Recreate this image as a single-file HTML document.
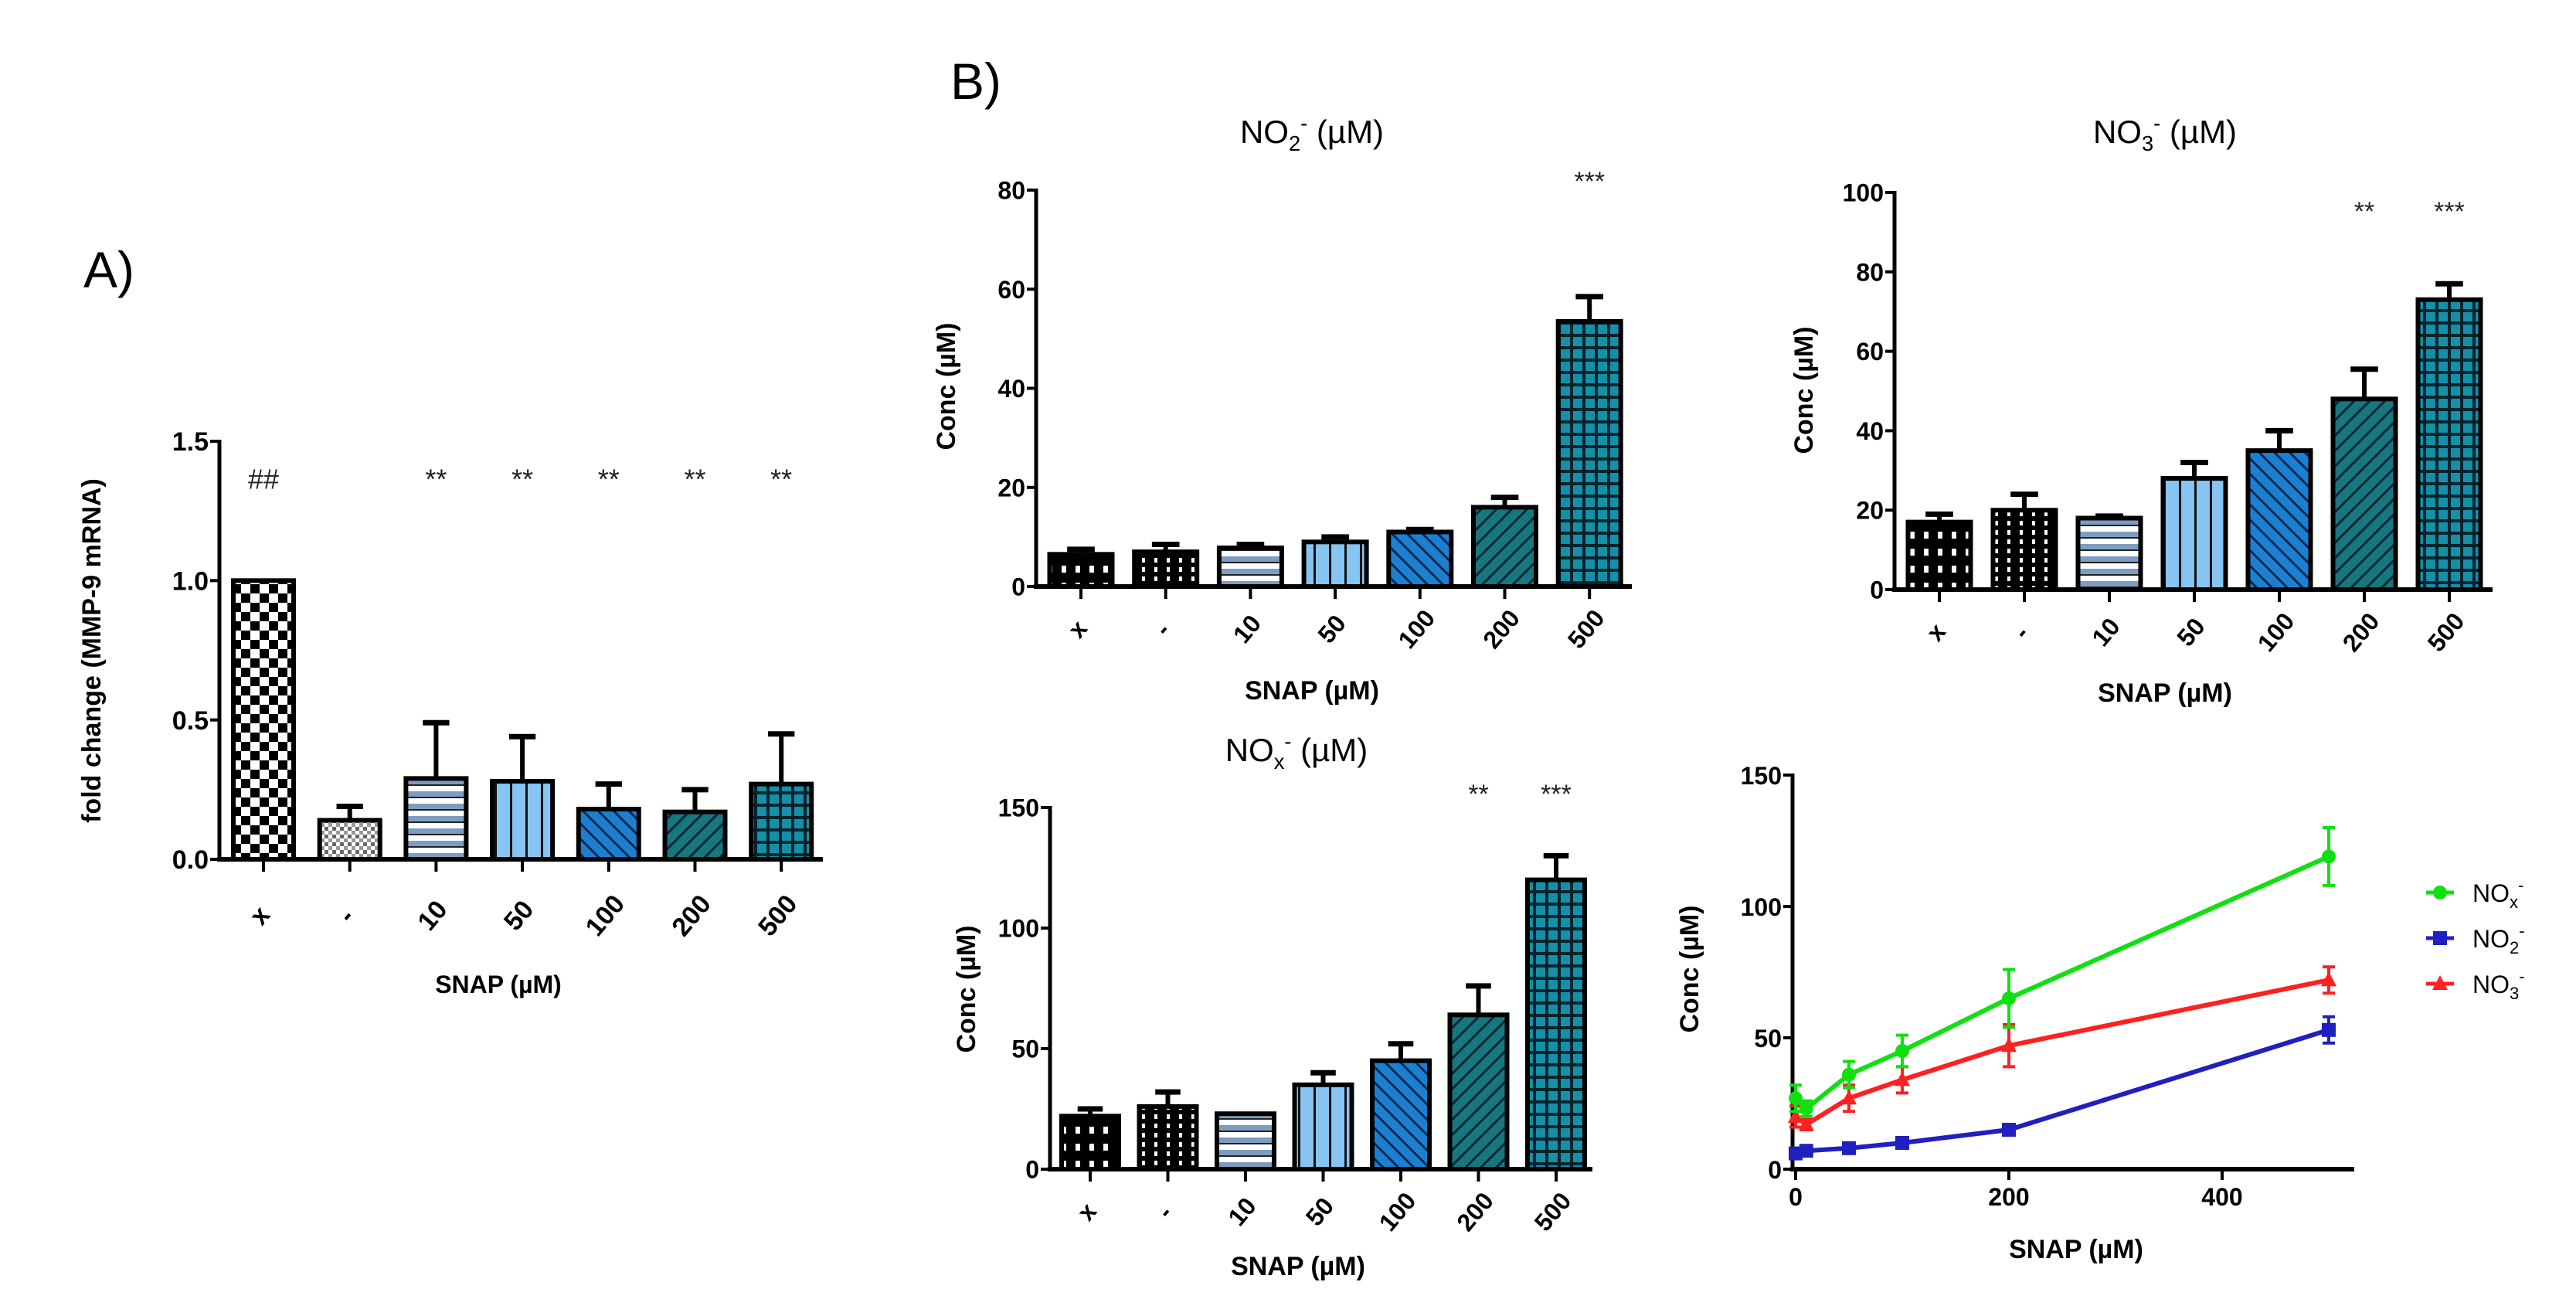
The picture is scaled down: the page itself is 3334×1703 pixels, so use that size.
<!DOCTYPE html>
<html><head><meta charset="utf-8"><style>
html,body{margin:0;padding:0;background:#fff;}
svg{display:block;font-family:"Liberation Sans",sans-serif;}
</style></head><body>
<svg id="fig" width="3334" height="1703" viewBox="0 0 3334 1703" xmlns="http://www.w3.org/2000/svg">
<defs>
<pattern id="pChecker" width="24" height="24" patternUnits="userSpaceOnUse"><rect width="24" height="24" fill="#fff"/><rect width="12" height="12" fill="#000"/><rect x="12" y="12" width="12" height="12" fill="#000"/></pattern>
<pattern id="pGrey" width="10" height="10" patternUnits="userSpaceOnUse"><rect width="10" height="10" fill="#fff"/><rect width="5" height="5" fill="#666"/><rect x="5" y="5" width="5" height="5" fill="#999"/></pattern>
<pattern id="pDots" width="18" height="22" patternUnits="userSpaceOnUse"><rect width="18" height="22" fill="#000"/><rect x="6" y="6" width="6" height="9" fill="#fff"/></pattern>
<pattern id="pVdots" width="16" height="12" patternUnits="userSpaceOnUse"><rect width="16" height="12" fill="#000"/><rect x="6" y="2" width="4" height="6" fill="#fff"/></pattern>
<pattern id="pHstripe" width="14" height="16" patternUnits="userSpaceOnUse"><rect width="14" height="16" fill="#fff"/><rect y="0" width="14" height="7" fill="#7d9cc0"/><rect y="7" width="14" height="2" fill="#222"/></pattern>
<pattern id="pVline" width="20" height="10" patternUnits="userSpaceOnUse"><rect width="20" height="10" fill="#86c4f2"/><rect x="0" width="3" height="10" fill="#111"/></pattern>
<pattern id="pDiagA" width="14" height="14" patternUnits="userSpaceOnUse" patternTransform="rotate(-45)"><rect width="14" height="14" fill="#1c80d2"/><rect width="3" height="14" fill="#0a2a50"/></pattern>
<pattern id="pDiagB" width="14" height="14" patternUnits="userSpaceOnUse" patternTransform="rotate(45)"><rect width="14" height="14" fill="#17767f"/><rect width="3" height="14" fill="#062a2e"/></pattern>
<pattern id="pGrid" width="16" height="16" patternUnits="userSpaceOnUse"><rect width="16" height="16" fill="#1490a8"/><rect width="4" height="16" fill="#06222a"/><rect width="16" height="4" fill="#06222a"/></pattern>
</defs>
<text x="108" y="372" font-size="66">A)</text>
<text x="1230" y="128" font-size="66">B)</text>
<g id="chartA"></g>
<g id="chartNO2"></g>
<g id="chartNO3"></g>
<g id="chartNOX"></g>
<g id="chartLine"></g>
</svg>
<script>
const categories = ["x", "-", "10", "50", "100", "200", "500"];
const mmpValues = [1.0, 0.14, 0.29, 0.28, 0.18, 0.17, 0.27];
const mmpErrTop = [1.0, 0.19, 0.49, 0.44, 0.27, 0.25, 0.45];
const mmpMarks = ["##", "", "**", "**", "**", "**", "**"];
const mmpTicks = [0, 0.5, 1.0, 1.5];
const mmpTickLabels = ["0.0", "0.5", "1.0", "1.5"];
const no2Values = [6.5, 7, 7.8, 9, 11, 16, 53.5];
const no2ErrTop = [7.5, 8.5, 8.5, 10, 11.5, 18, 58.5];
const no2Marks = ["", "", "", "", "", "", "***"];
const no2Ticks = [0, 20, 40, 60, 80];
const no3Values = [17, 20, 18, 28, 35, 48, 73];
const no3ErrTop = [19, 24, 18.5, 32, 40, 55.5, 77];
const no3Marks = ["", "", "", "", "", "**", "***"];
const no3Ticks = [0, 20, 40, 60, 80, 100];
const noxValues = [22, 26, 23, 35, 45, 64, 120];
const noxErrTop = [25, 32, 23, 40, 52, 76, 130];
const noxMarks = ["", "", "", "", "", "**", "***"];
const noxTicks = [0, 50, 100, 150];
const snapDoses = [0, 10, 50, 100, 200, 500];
const lineNOx = [27, 23, 36, 45, 65, 119];
const lineNOxErr = [5, 3, 5, 6, 11, 11];
const lineNO3 = [20, 17, 27, 34, 47, 72];
const lineNO3Err = [4, 2, 5, 5, 8, 5];
const lineNO2 = [6, 7, 8, 10, 15, 53];
const lineNO2Err = [1, 1, 1, 1, 1, 5];
const lineXTicks = [0, 200, 400];
const lineYTicks = [0, 50, 100, 150];

const NS = "http://www.w3.org/2000/svg";
function mk(parent, tag, attrs, text) {
  const e = document.createElementNS(NS, tag);
  for (const k in attrs) e.setAttribute(k, attrs[k]);
  if (text !== undefined) e.textContent = text;
  parent.appendChild(e);
  return e;
}
const patsA = ["url(#pChecker)", "url(#pGrey)", "url(#pHstripe)", "url(#pVline)", "url(#pDiagA)", "url(#pDiagB)", "url(#pGrid)"];
const patsB = ["url(#pDots)", "url(#pVdots)", "url(#pHstripe)", "url(#pVline)", "url(#pDiagA)", "url(#pDiagB)", "url(#pGrid)"];

function barChart(g, o) {
  const y = v => o.y0 - (v / o.ymax) * (o.y0 - o.yTop);
  const cx = i => o.first + i * o.sp;
  // bars
  o.values.forEach((v, i) => {
    const x = cx(i), top = y(o.errs[i]);
    if (o.errs[i] > v) {
      const el = mk(g, "line", {x1: x, x2: x, y1: y(v), y2: top, stroke: "#000", "stroke-width": 6});
      
      
      const cap = mk(g, "line", {x1: x - o.w * 0.22, x2: x + o.w * 0.22, y1: top, y2: top, stroke: "#000", "stroke-width": 7});
      
      
    }
    const r = mk(g, "rect", {x: x - o.w / 2, y: y(v), width: o.w, height: o.y0 - y(v), fill: o.pats[i], stroke: "#000", "stroke-width": 6});
    
    
    if (o.marks[i]) {
      const t = mk(g, "text", {x: x, y: y(o.markY), "font-size": o.markSize, "text-anchor": "middle", fill: "#222"}, o.marks[i]);
      
      
    }
    const tk = mk(g, "line", {x1: x, x2: x, y1: o.y0, y2: o.y0 + 16, stroke: "#000", "stroke-width": 4});
    
    
    const lx = x + 4, ly = o.y0 + o.labOff;
    const lab = mk(g, "text", {x: lx, y: ly, "font-size": o.fs, "font-weight": "bold", "text-anchor": "middle", transform: `rotate(-50 ${lx} ${ly})`}, categories[i]);
    
    
  });
  // axes
  const ya = mk(g, "line", {x1: o.ax, x2: o.ax, y1: o.yTop - 2, y2: o.y0 + 3, stroke: "#000", "stroke-width": 5});
  
  
  const xa = mk(g, "line", {x1: o.ax - 3, x2: o.right, y1: o.y0, y2: o.y0, stroke: "#000", "stroke-width": 6});
  
  
  o.ticks.forEach((t, i) => {
    const tl = mk(g, "line", {x1: o.ax - 12, x2: o.ax, y1: y(t), y2: y(t), stroke: "#000", "stroke-width": 4});
    
    
    const tt = mk(g, "text", {x: o.ax - 14, y: y(t) + o.fs * 0.36, "font-size": o.fs, "font-weight": "bold", "text-anchor": "end"}, o.tickLabels ? o.tickLabels[i] : String(t));
    
    
  });
}

function title(g, x, y, main, sub, size) {
  const t = mk(g, "text", {x: x, y: y, "font-size": size, "text-anchor": "middle"});
  
  
  t.appendChild(document.createTextNode("NO"));
  const s1 = mk(t, "tspan", {"font-size": size * 0.65, dy: 10}, sub);
  const s2 = mk(t, "tspan", {"font-size": size * 0.65, dy: -26}, "-");
  const s3 = mk(t, "tspan", {dy: 16}, " (\u00b5M)");
}
function label(g, x, y, txt, size, rot, name) {
  const attrs = {x: x, y: y, "font-size": size, "font-weight": "bold", "text-anchor": "middle"};
  if (rot) attrs.transform = `rotate(-90 ${x} ${y})`;
  const t = mk(g, "text", attrs, txt);
  
  
}

// Panel A
const gA = document.getElementById("chartA");
barChart(gA, {ax: 284, y0: 1112, yTop: 571, ymax: 1.5, right: 1065, first: 341, sp: 111.7, w: 78,
  values: mmpValues, errs: mmpErrTop, marks: mmpMarks, markY: 1.33, markSize: 36, pats: patsA,
  ticks: mmpTicks, tickLabels: mmpTickLabels, fs: 34, labOff: 80});
label(gA, 130, 842, "fold change (MMP-9 mRNA)", 34, true, "y-axis-title");
label(gA, 645, 1285, "SNAP (\u00b5M)", 32, false, "x-axis-title");

// NO2
const g2 = document.getElementById("chartNO2");
barChart(g2, {ax: 1341, y0: 759, yTop: 246, ymax: 80, right: 2112, first: 1399, sp: 109.7, w: 81,
  values: no2Values, errs: no2ErrTop, marks: no2Marks, markY: 80, markSize: 34, pats: patsB,
  ticks: no2Ticks, fs: 32, labOff: 62});
title(g2, 1698, 185, "NO", "2", 42);
label(g2, 1236, 500, "Conc  (\u00b5M)", 34, true, "y-axis-title");
label(g2, 1698, 905, "SNAP (\u00b5M)", 34, false, "x-axis-title");

// NO3
const g3 = document.getElementById("chartNO3");
barChart(g3, {ax: 2452, y0: 763, yTop: 249, ymax: 100, right: 3226, first: 2510, sp: 110, w: 81,
  values: no3Values, errs: no3ErrTop, marks: no3Marks, markY: 93, markSize: 34, pats: patsB,
  ticks: no3Ticks, fs: 32, labOff: 62});
title(g3, 2802, 185, "NO", "3", 42);
label(g3, 2346, 505, "Conc  (\u00b5M)", 34, true, "y-axis-title");
label(g3, 2802, 908, "SNAP (\u00b5M)", 34, false, "x-axis-title");

// NOx
const gx = document.getElementById("chartNOX");
barChart(gx, {ax: 1359, y0: 1513, yTop: 1045, ymax: 150, right: 2061, first: 1411, sp: 100.5, w: 74,
  values: noxValues, errs: noxErrTop, marks: noxMarks, markY: 152, markSize: 34, pats: patsB,
  ticks: noxTicks, fs: 32, labOff: 62});
title(gx, 1678, 985, "NO", "x", 42);
label(gx, 1262, 1280, "Conc  (\u00b5M)", 34, true, "y-axis-title");
label(gx, 1680, 1650, "SNAP (\u00b5M)", 34, false, "x-axis-title");

// Line chart
const gl = document.getElementById("chartLine");
const lx = v => 2324 + (v / 500) * (3014 - 2324);
const ly = v => 1513 - (v / 150) * (1513 - 1003);
const yAx = mk(gl, "line", {x1: 2320, x2: 2320, y1: 1001, y2: 1516, stroke: "#000", "stroke-width": 5});


const xAx = mk(gl, "line", {x1: 2317, x2: 3047, y1: 1513, y2: 1513, stroke: "#000", "stroke-width": 6});


lineYTicks.forEach(t => {
  const a = mk(gl, "line", {x1: 2308, x2: 2320, y1: ly(t), y2: ly(t), stroke: "#000", "stroke-width": 4});
  
  
  const b = mk(gl, "text", {x: 2306, y: ly(t) + 12, "font-size": 32, "font-weight": "bold", "text-anchor": "end"}, String(t));
  
  
});
lineXTicks.forEach(t => {
  const a = mk(gl, "line", {x1: lx(t), x2: lx(t), y1: 1513, y2: 1527, stroke: "#000", "stroke-width": 4});
  
  
  const b = mk(gl, "text", {x: lx(t), y: 1560, "font-size": 32, "font-weight": "bold", "text-anchor": "middle"}, String(t));
  
  
});
label(gl, 2198, 1254, "Conc  (\u00b5M)", 34, true, "y-axis-title");
label(gl, 2687, 1628, "SNAP (\u00b5M)", 34, false, "x-axis-title");

function marker(g, shape, x, y, color, name) {
  let m;
  if (shape === "circle") m = mk(g, "circle", {cx: x, cy: y, r: 9, fill: color});
  else if (shape === "square") m = mk(g, "rect", {x: x - 9, y: y - 9, width: 18, height: 18, fill: color});
  else m = mk(g, "polygon", {points: `${x},${y - 11} ${x - 10},${y + 8} ${x + 10},${y + 8}`, fill: color});
  
  
}
function series(vals, errs, color, shape, name) {
  const pts = snapDoses.map((d, i) => `${lx(d)},${ly(vals[i])}`).join(" ");
  const pl = mk(gl, "polyline", {points: pts, fill: "none", stroke: color, "stroke-width": 6});
  
  
  snapDoses.forEach((d, i) => {
    const x = lx(d);
    const e = mk(gl, "line", {x1: x, x2: x, y1: ly(vals[i] - errs[i]), y2: ly(vals[i] + errs[i]), stroke: color, "stroke-width": 4});
    
    
    [vals[i] - errs[i], vals[i] + errs[i]].forEach(v => {
      const c = mk(gl, "line", {x1: x - 8, x2: x + 8, y1: ly(v), y2: ly(v), stroke: color, "stroke-width": 4});
      
      
    });
    marker(gl, shape, x, ly(vals[i]), color, name + '-point');
  });
}
series(lineNO2, lineNO2Err, "#2020c0", "square", "no2");
series(lineNO3, lineNO3Err, "#ff2020", "triangle", "no3");
series(lineNOx, lineNOxErr, "#10e010", "circle", "nox");

const legend = [["x", "#10e010", "circle", 1155], ["2", "#2020c0", "square", 1214], ["3", "#ff2020", "triangle", 1273]];
legend.forEach(([sub, col, shape, yy]) => {
  const lg = mk(gl, "g", {});
  
  
  const ln = mk(lg, "line", {x1: 3140, x2: 3176, y1: yy, y2: yy, stroke: col, "stroke-width": 5});
  marker(lg, shape, 3158, yy, col, 'legend-marker');
  const t = mk(lg, "text", {x: 3200, y: yy + 12, "font-size": 32});
  t.appendChild(document.createTextNode("NO"));
  mk(t, "tspan", {"font-size": 22, dy: 8}, sub);
  mk(t, "tspan", {"font-size": 22, dy: -22}, "-");
});
</script>
</body></html>
